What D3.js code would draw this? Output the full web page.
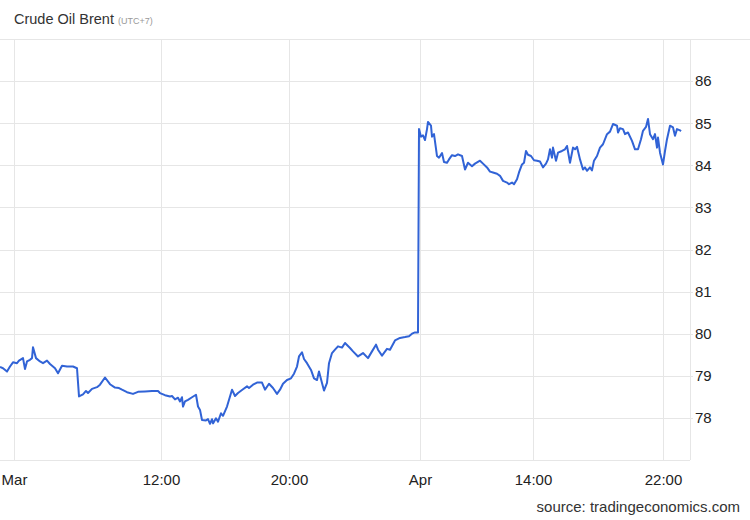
<!DOCTYPE html>
<html>
<head>
<meta charset="utf-8">
<script src="https://cdn.jsdelivr.net/npm/d3@7"></script>
<style>
  html, body { margin: 0; padding: 0; background: #fff; }
  svg { display: block; font-family: "Liberation Sans", Arial, sans-serif; }
</style>
</head>
<body>
<svg id="chart" width="750" height="520"></svg>
<script>
// ---- data (session position along the trading axis, price in USD/bbl) ----
const pos = [0,3,7,10,13,17,19,23,25,27,30,32,33,36,40,43,47,50,55,58,62,67,73,77,79,83,86,88,92,97,100,105,110,115,
  119,122,127,133,138,145,152,158,160,165,170,172,175,178,180,182,183,185,188,192,196,198,200,202,206,208,210,212,213,216,218,221,223,227,230,232,
  235,238,243,247,249,253,257,262,265,269,273,277,280,283,287,291,294,297,299,302,304,307,311,314,317,319,322,324,327,329,332,335,338,342,345,
  350,353,358,363,368,372,376,378,382,387,390,395,400,405,409,412,415,418,419,421,423,425,427,428,431,432,434,437,439,442,444,447,449,452,455,458,462,
  465,468,472,475,480,483,487,490,493,497,500,503,507,509,512,514,517,519,522,524,526,528,531,534,537,540,543,546,548,550,552,553,556,558,562,565,567,570,573,575,577,580,
  583,585,587,590,592,594,597,600,603,607,610,613,617,618,620,623,625,628,632,635,638,641,643,646,648,650,653,655,657,658,660,663,665,667,670,673,675,677,680,681];
const price = [79.21,79.18,79.10,79.22,79.32,79.30,79.36,79.42,79.16,79.34,79.38,79.42,79.68,79.42,79.34,79.30,79.36,79.28,79.18,79.06,79.24,79.22,79.22,79.18,78.51,78.56,78.64,78.59,78.69,78.73,78.79,78.96,78.80,78.72,
  78.71,78.67,78.61,78.57,78.62,78.63,78.64,78.64,78.59,78.54,78.51,78.52,78.44,78.48,78.39,78.49,78.27,78.39,78.43,78.49,78.55,78.27,78.19,77.95,77.94,77.97,77.86,77.97,77.87,77.99,77.91,78.11,78.05,78.27,78.51,78.67,
  78.52,78.59,78.68,78.75,78.71,78.79,78.84,78.84,78.67,78.81,78.71,78.57,78.67,78.81,78.90,78.94,79.05,79.22,79.46,79.56,79.40,79.30,79.14,78.94,78.90,79.10,78.83,78.65,78.83,79.30,79.54,79.62,79.70,79.67,79.78,
  79.66,79.58,79.46,79.54,79.42,79.58,79.74,79.62,79.48,79.64,79.62,79.84,79.90,79.92,79.94,80.00,80.03,80.03,84.86,84.68,84.71,84.60,84.86,85.03,84.94,84.68,84.74,84.22,84.18,84.29,84.08,84.06,84.14,84.24,84.22,84.26,84.22,
  83.90,84.06,83.98,84.04,84.11,84.04,83.95,83.85,83.83,83.80,83.75,83.63,83.59,83.55,83.59,83.55,83.67,83.83,84.02,84.06,84.34,84.25,84.22,84.12,84.11,84.09,83.95,84.04,84.14,84.38,84.18,84.42,84.11,84.30,84.34,84.38,84.46,84.06,84.42,84.38,84.44,84.14,
  83.90,83.95,83.87,83.95,83.88,84.11,84.22,84.42,84.50,84.74,84.80,84.98,84.94,84.78,84.88,84.86,84.74,84.78,84.58,84.38,84.38,84.62,84.82,84.91,85.10,84.74,84.62,84.74,84.42,84.66,84.30,84.02,84.34,84.62,84.94,84.90,84.70,84.86,84.83,84.81];

const xTickPos = [14, 161, 289, 420, 533, 663];
const xTickLabels = ["Mar", "12:00", "20:00", "Apr", "14:00", "22:00"];
const yTicks = [78, 79, 80, 81, 82, 83, 84, 85, 86];
const title = "Crude Oil Brent";
const subtitle = "(UTC+7)";
const source = "source: tradingeconomics.com";

// ---- layout ----
const svg = d3.select("#chart");
const plot = { left: 0, right: 690, top: 39, bottom: 460 };

const x = d3.scaleLinear().domain([0, 690]).range([plot.left, plot.right]);
const y = d3.scaleLinear().domain([77, 87]).range([plot.bottom, plot.top]);

const grid = "#e6e6e6";

// top border
svg.append("line")
  .attr("x1", 0).attr("x2", 750)
  .attr("y1", plot.top + 0.5).attr("y2", plot.top + 0.5)
  .attr("stroke", grid).attr("stroke-width", 1);

// horizontal gridlines + right labels
const yAxis = d3.axisRight(y).tickValues(yTicks).tickSize(0).tickPadding(0).tickFormat(d3.format("d"));
const gy = svg.append("g").attr("transform", `translate(${plot.right + 5},0)`).call(yAxis);
gy.select(".domain").remove();
gy.selectAll("text")
  .attr("x", 0)
  .attr("fill", "#222")
  .style("font-size", "15px")
  .style("font-family", "'Liberation Sans', Arial, sans-serif");

svg.append("g").selectAll("line").data(yTicks).join("line")
  .attr("x1", 0).attr("x2", plot.right + 3)
  .attr("y1", d => Math.round(y(d)) + 0.5).attr("y2", d => Math.round(y(d)) + 0.5)
  .attr("stroke", grid).attr("stroke-width", 1);

// vertical gridlines
svg.append("g").selectAll("line").data(xTickPos).join("line")
  .attr("x1", d => Math.round(x(d)) + 0.5).attr("x2", d => Math.round(x(d)) + 0.5)
  .attr("y1", plot.top).attr("y2", plot.bottom)
  .attr("stroke", grid).attr("stroke-width", 1);

// right plot border
svg.append("line")
  .attr("x1", plot.right + 0.5).attr("x2", plot.right + 0.5)
  .attr("y1", plot.top).attr("y2", plot.bottom)
  .attr("stroke", grid).attr("stroke-width", 1);

// bottom axis line
svg.append("line")
  .attr("x1", 0).attr("x2", plot.right)
  .attr("y1", plot.bottom + 0.5).attr("y2", plot.bottom + 0.5)
  .attr("stroke", grid).attr("stroke-width", 1);

// x axis labels
const xAxis = d3.axisBottom(x).tickValues(xTickPos).tickSize(0).tickPadding(0)
  .tickFormat((d, i) => xTickLabels[i]);
const gx = svg.append("g").attr("transform", `translate(0,${plot.bottom})`).call(xAxis);
gx.select(".domain").remove();
gx.selectAll("text")
  .attr("y", 14)
  .attr("fill", "#222")
  .style("font-size", "15px")
  .style("font-family", "'Liberation Sans', Arial, sans-serif");

// price line
const data = pos.map((p, i) => ({ p, v: price[i] }));
svg.append("path")
  .datum(data)
  .attr("fill", "none")
  .attr("stroke", "#3163d6")
  .attr("stroke-width", 2)
  .attr("stroke-linejoin", "round")
  .attr("d", d3.line().x(d => x(d.p)).y(d => y(d.v)));

// title
const t = svg.append("text").attr("x", 14).attr("y", 24)
  .attr("fill", "#333").style("font-size", "14.5px");
t.append("tspan").text(title);
t.append("tspan").attr("dx", 4).attr("fill", "#999").style("font-size", "9px").text(subtitle);

// source
svg.append("text").attr("x", 740).attr("y", 512)
  .attr("text-anchor", "end").attr("fill", "#333")
  .style("font-size", "15px").text(source);
</script>
</body>
</html>
